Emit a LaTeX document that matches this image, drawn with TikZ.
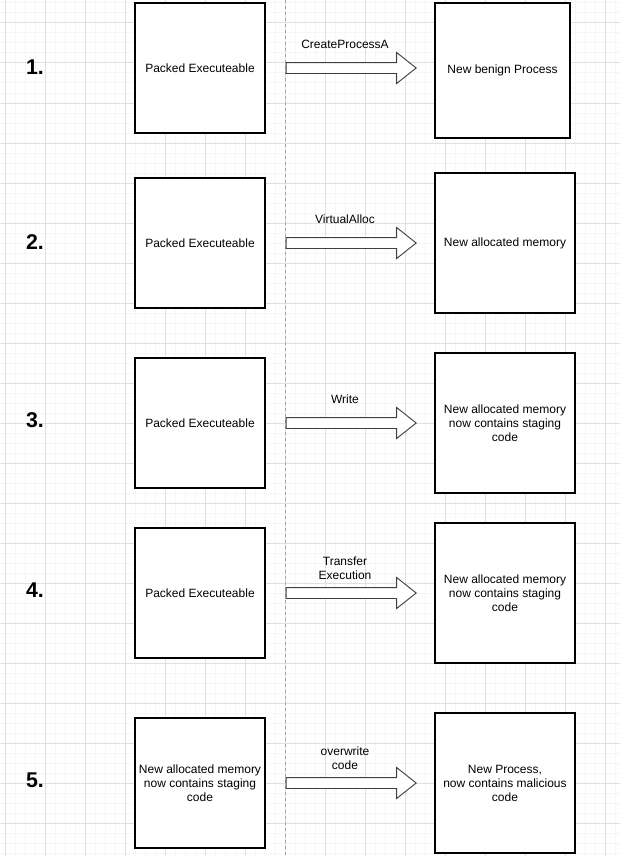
\documentclass[tikz,border=0pt]{standalone}
\usepackage{fontspec}
\setmainfont{Liberation Sans}
\usetikzlibrary{shapes.arrows,positioning}
\definecolor{gridmajor}{HTML}{E0E0E0}
\definecolor{gridminor}{HTML}{F6F6F6}

\begin{document}
\begin{tikzpicture}[x=0.75pt,y=-0.75pt,line join=miter,
  box/.style={draw,line width=1pt,fill=white,align=center,inner sep=0pt,font=\fontsize{9}{10.5}\selectfont},
  srcbox/.style={box,minimum width=97.5pt,minimum height=97.5pt},
  dstbox/.style={box,minimum width=105pt,minimum height=105pt},
  bigarrow/.style={single arrow,draw=black!75,line width=0.7pt,fill=white,inner sep=0pt,
    text height=7.5pt,text depth=0pt,minimum height=97.5pt,
    single arrow head extend=7.5pt,single arrow tip angle=77},
  lbl/.style={align=center,font=\fontsize{9}{10.5}\selectfont},
  stepnum/.style={font=\fontsize{16}{18}\selectfont\bfseries}]
  \useasboundingbox (0,0) rectangle (620,856);
  \fill[white] (0,0) rectangle (620,856);
  % grid
  \foreach \x in {5,15,...,615} \draw[gridminor,line width=0.75pt] (\x,0) -- (\x,856);
  \foreach \y in {3,13,...,853} \draw[gridminor,line width=0.75pt] (0,\y) -- (620,\y);
  \foreach \x in {5,45,...,605} \draw[gridmajor,line width=0.75pt] (\x,0) -- (\x,856);
  \foreach \y in {23,63,...,823} \draw[gridmajor,line width=0.75pt] (0,\y) -- (620,\y);
  \draw[black!35,line width=0.75pt,dash pattern=on 2.25pt off 2.25pt] (285,0) -- (285,856);

  % 1.
  \node[stepnum] (n1) at (35,67) {1.};
  \node[srcbox] (src1) at (200,68) {Packed Executeable};
  \node[dstbox,minimum width=101.25pt,minimum height=101.25pt] (dst1) at (502.5,70.5) {New benign Process};
  \node[bigarrow,right=15pt of src1] (arr1) {};
  \node[lbl] (lab1) at (345,44) {CreateProcessA};

  % 2.
  \node[stepnum] (n2) at (35,242) {2.};
  \node[srcbox] (src2) at (200,243) {Packed Executeable};
  \node[dstbox] (dst2) at (505,243) {New allocated memory};
  \node[bigarrow,right=15pt of src2] (arr2) {};
  \node[lbl] (lab2) at (345,219) {VirtualAlloc};

  % 3.
  \node[stepnum] (n3) at (35,420) {3.};
  \node[srcbox] (src3) at (200,423) {Packed Executeable};
  \node[dstbox] (dst3) at (505,423) {New allocated memory\\now contains staging\\code};
  \node[bigarrow,right=15pt of src3] (arr3) {};
  \node[lbl] (lab3) at (345,399) {Write};

  % 4.
  \node[stepnum] (n4) at (35,590) {4.};
  \node[srcbox] (src4) at (200,593) {Packed Executeable};
  \node[dstbox] (dst4) at (505,593) {New allocated memory\\now contains staging\\code};
  \node[bigarrow,right=15pt of src4] (arr4) {};
  \node[lbl] (lab4) at (345,568) {Transfer\\Execution};

  % 5.
  \node[stepnum] (n5) at (35,780) {5.};
  \node[srcbox] (src5) at (200,783) {New allocated memory\\now contains staging\\code};
  \node[dstbox] (dst5) at (505,783) {New Process,\\now contains malicious\\code};
  \node[bigarrow,right=15pt of src5] (arr5) {};
  \node[lbl] (lab5) at (345,758) {overwrite\\code};
\end{tikzpicture}
\end{document}
